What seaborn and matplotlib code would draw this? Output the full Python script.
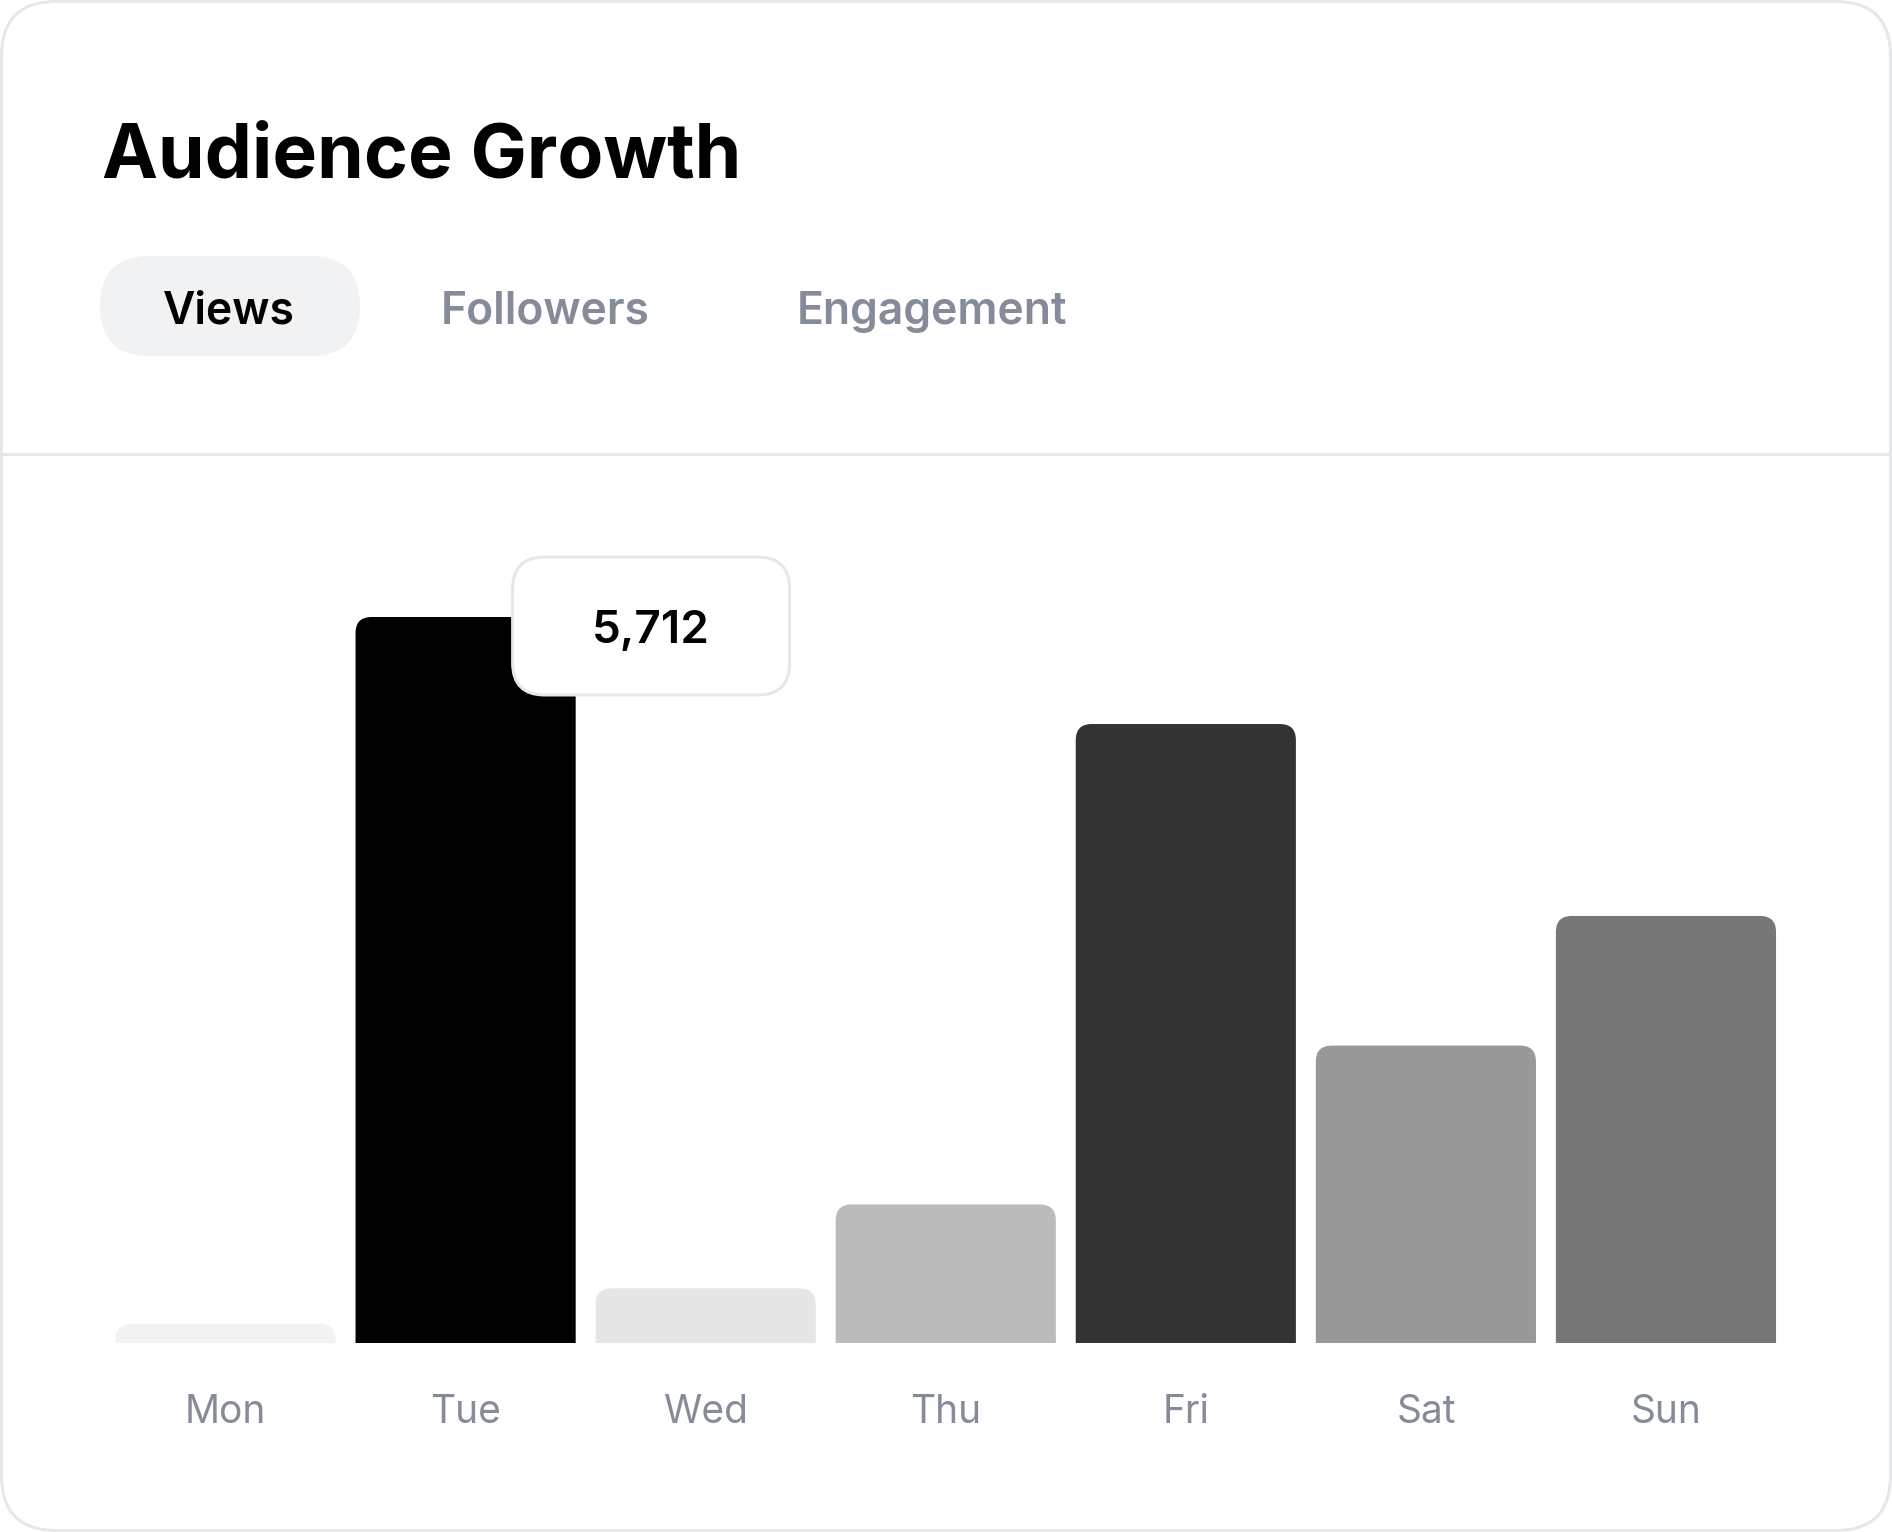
import seaborn as sns
import pandas as pd
from matplotlib import pyplot as plt
from matplotlib.patches import FancyBboxPatch

days = ["Mon", "Tue", "Wed", "Thu", "Fri", "Sat", "Sun"]
views = [150, 5712, 430, 1090, 4870, 2340, 3360]
bar_colors = ["#f2f3f4", "#000000", "#e6e6e6", "#bbbbbb", "#333333", "#999999", "#777777"]
tabs = ["Views", "Followers", "Engagement"]
title = "Audience Growth"

sns.set_theme(style="white")
plt.rcParams["font.family"] = ["Inter", "DejaVu Sans"]

W, H = 1892, 1532
fig = plt.figure(figsize=(W / 100, H / 100), dpi=100, facecolor="white")

BORDER = "#e5e7eb"
GREY_TXT = "#858b99"
LW = 3 * 72 / 100  # 3 px

# card background, pixel coords with y from the top
bg = fig.add_axes([0, 0, 1, 1], zorder=0)
bg.set_xlim(0, W)
bg.set_ylim(H, 0)
bg.set_axis_off()
bg.add_patch(FancyBboxPatch((1.5, 1.5), W - 3, H - 3, boxstyle="round,pad=0,rounding_size=55",
                            fc="white", ec=BORDER, lw=LW))
bg.plot([1.5, W - 1.5], [454, 454], color=BORDER, lw=LW, solid_capstyle="butt")

bg.text(102, 178, title, fontsize=54, fontweight="bold", color="#000000", va="baseline", ha="left")

# tabs
bg.add_patch(FancyBboxPatch((100, 256), 260, 100, boxstyle="round,pad=0,rounding_size=50",
                            fc="#f1f2f4", ec="none"))
tab_x = [229, 545, 932]
for i, (name, x) in enumerate(zip(tabs, tab_x)):
    bg.text(x, 324, name, fontsize=32, fontweight="semibold", ha="center", va="baseline",
            color="#000000" if i == 0 else GREY_TXT)

# bar chart
ax = fig.add_axes([105.5 / W, (H - 1343) / H, 1680.5 / W, (1343 - 580.4) / H], zorder=1)
ax.patch.set_alpha(0)
df = pd.DataFrame({"day": days, "views": views})
sns.barplot(data=df, x="day", y="views", hue="day", palette=dict(zip(days, bar_colors)),
            width=0.917, saturation=1, legend=False, ax=ax)
ax.set_xlim(-0.5, len(days) - 0.5)
ax.set_ylim(0, 6000)
sns.despine(ax=ax, left=True, bottom=True)
ax.set_yticks([])
ax.set_xlabel("")
ax.set_ylabel("")
ax.tick_params(axis="x", length=0, pad=37, labelsize=28, labelcolor=GREY_TXT)

# rounded tops: redraw each bar as a rounded box that dips below 0 and gets clipped
o = ax.transData.transform((0, 0))
px_x = ax.transData.transform((1, 0))[0] - o[0]
px_y = ax.transData.transform((0, 1))[1] - o[1]
aspect = px_x / px_y
r = 16 / px_x
for bar in list(ax.patches):
    x0, w, h = bar.get_x(), bar.get_width(), bar.get_height()
    dip = r * aspect
    ax.add_patch(FancyBboxPatch((x0, -dip), w, h + dip, boxstyle=f"round,pad=0,rounding_size={r}",
                                mutation_aspect=aspect, fc=bar.get_facecolor(), ec="none"))
    bar.remove()

# tooltip over the peak bar
ov = fig.add_axes([0, 0, 1, 1], zorder=2)
ov.set_xlim(0, W)
ov.set_ylim(H, 0)
ov.set_axis_off()
peak = views.index(max(views))
bx, by = ax.transData.transform((peak, views[peak]))
by = H - by
tx, ty, tw, th = bx + 47, by - 60, 277, 138
ov.add_patch(FancyBboxPatch((tx, ty), tw, th, boxstyle="round,pad=0,rounding_size=32",
                            fc="white", ec=BORDER, lw=LW))
ov.text(tx + tw / 2, ty + th / 2 + 5, f"{views[peak]:,}", fontsize=33, fontweight="semibold",
        ha="center", va="center", color="#000000")

plt.savefig("out.png", dpi=100, facecolor="white")
